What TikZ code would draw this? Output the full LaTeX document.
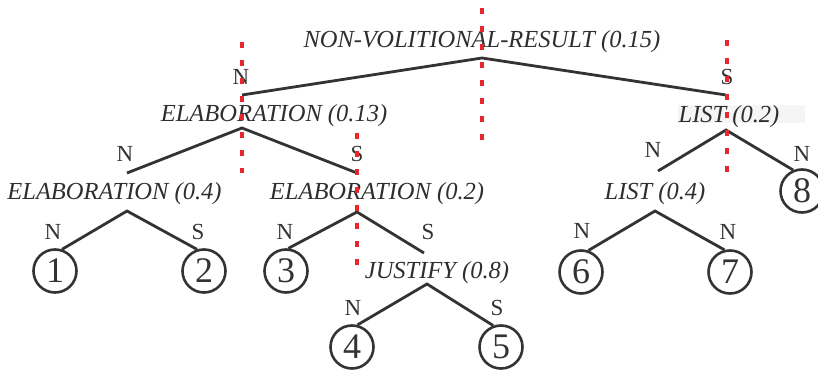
\documentclass[tikz,border=0pt]{standalone}
\usepackage{fontspec}
\setmainfont{Liberation Serif}
\definecolor{ink}{HTML}{333333}
\definecolor{cut}{HTML}{E8262B}
\begin{document}
\begin{tikzpicture}[x=1pt,y=-1pt,
  rel/.style={font=\fontsize{24.5}{28}\selectfont\itshape, text=ink!90!black, inner sep=0pt, anchor=base},
  nuc/.style={font=\fontsize{23}{26}\selectfont, text=ink, inner sep=0pt, anchor=base},
  leaf/.style={circle, draw=ink, line width=2.6pt, minimum size=43pt, inner sep=0pt, font=\fontsize{36}{38}\selectfont, text=ink},
  edge/.style={draw=ink, line width=2.8pt},
  cutline/.style={draw=cut, line width=3.5pt, dash pattern=on 6pt off 12pt}]
\useasboundingbox (0,0) rectangle (818,371);
% faint backdrop behind LIST (0.2)
\fill[black!4] (678,105) rectangle (805,123);
% relation labels
\node[rel] (r0) at (482,48) {NON-VOLITIONAL-RESULT (0.15)};
\node[rel] (r1) at (274,122) {ELABORATION (0.13)};
\node[rel] (r2) at (729,123) {LIST (0.2)};
\node[rel] (r3) at (114.5,200) {ELABORATION (0.4)};
\node[rel] (r4) at (377,200) {ELABORATION (0.2)};
\node[rel] (r5) at (437,278) {JUSTIFY (0.8)};
\node[rel] (r6) at (655,200) {LIST (0.4)};
% branch points
\coordinate (v0) at (482,58);
\coordinate (t1) at (242,95);  \coordinate (v1) at (242,128);
\coordinate (t2) at (726,95);  \coordinate (v2) at (726,130);
\coordinate (t3) at (127,173); \coordinate (v3) at (127,211);
\coordinate (t4) at (357,173); \coordinate (v4) at (357,212);
\coordinate (t5) at (424,253); \coordinate (v5) at (427,284);
\coordinate (t6) at (658,171); \coordinate (v6) at (655,211);
% leaves
\node[leaf] (c1) at (55,271) {1};
\node[leaf] (c2) at (204,271) {2};
\node[leaf] (c3) at (286,271) {3};
\node[leaf] (c4) at (352,347) {4};
\node[leaf] (c5) at (501,347) {5};
\node[leaf] (c6) at (581,272) {6};
\node[leaf] (c7) at (730,272) {7};
\node[leaf] (c8) at (802,191) {8};
% nuclearity labels
\node[nuc] (n01) at (241,85) {N};
\node[nuc] (n02) at (727,85) {S};
\node[nuc] (n11) at (125,162) {N};
\node[nuc] (n12) at (357,162) {S};
\node[nuc] (n31) at (53,240) {N};
\node[nuc] (n32) at (198,240) {S};
\node[nuc] (n41) at (285,240) {N};
\node[nuc] (n42) at (428,240) {S};
\node[nuc] (n51) at (353,315) {N};
\node[nuc] (n52) at (497,315) {S};
\node[nuc] (n21) at (653,158) {N};
\node[nuc] (n22) at (802,162) {N};
\node[nuc] (n61) at (582,238) {N};
\node[nuc] (n62) at (728,240) {N};
% edges
\draw[edge] (t1) -- (v0) -- (t2);
\draw[edge] (t3) -- (v1) -- (t4);
\draw[edge] (t6) -- (v2) -- (c8.113);
\draw[edge] (c1.72) -- (v3) -- (c2.108);
\draw[edge] (c3.84) -- (v4) -- (t5);
\draw[edge] (c4.76) -- (v5) -- (c5.110);
\draw[edge] (c6.71) -- (v6) -- (c7.104);
% cut lines
\coordinate (k1a) at (482,8);   \coordinate (k1b) at (482,140);
\coordinate (k2a) at (242,42);  \coordinate (k2b) at (242,173);
\coordinate (k3a) at (357,133); \coordinate (k3b) at (357,265);
\coordinate (k4a) at (727,40);  \coordinate (k4b) at (727,173);
\draw[cutline] (k1a) -- (k1b);
\draw[cutline] (k2a) -- (k2b);
\draw[cutline] (k3a) -- (k3b);
\draw[cutline] (k4a) -- (k4b);
\end{tikzpicture}
\end{document}
